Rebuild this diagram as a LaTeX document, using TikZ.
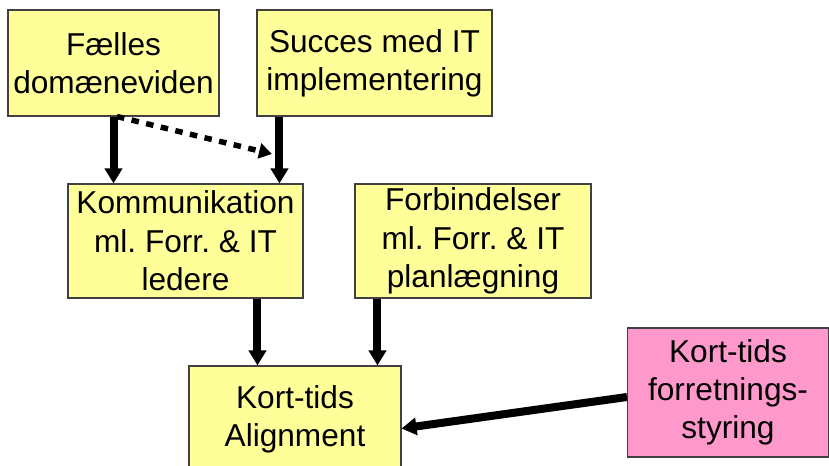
\documentclass[tikz,border=0pt]{standalone}
\usepackage{fontspec}
\setmainfont{Liberation Sans}
\usetikzlibrary{arrows.meta, positioning}
\definecolor{boxyellow}{HTML}{FFFF99}
\definecolor{boxpink}{HTML}{FF99CC}
\frenchspacing

\begin{document}
\begin{tikzpicture}[
  box/.style={draw=black!75, line width=0.6pt, fill=boxyellow, align=center,
    inner sep=0pt, font=\fontsize{18}{21.8}\selectfont},
  pinkbox/.style={box, fill=boxpink},
  bigarrow/.style={line width=0.16cm, -{Triangle[length=0.3cm, width=0.34cm]}},
  dotarrow/.style={line width=0.11cm, dash pattern=on 0.15cm off 0.15cm,
    -{Triangle[length=0.26cm, width=0.3cm]}}]

  \useasboundingbox (0,0) rectangle (16.58,-9.30);

  % top row
  \node[box, minimum width=4.22cm, minimum height=2.12cm] (faelles) at (2.27,-1.26) {Fælles\\domæneviden};
  \node[box, minimum width=4.70cm, minimum height=2.12cm] (succes) at (7.49,-1.26) {Succes med IT\\implementering};

  % middle row
  \node[box, minimum width=4.70cm, minimum height=2.28cm] (komm) at (3.71,-4.82) {Kommunikation\\ml. Forr. \& IT\\ledere};
  \node[box, minimum width=4.72cm, minimum height=2.28cm] (forb) at (9.46,-4.82) {Forbindelser\\ml. Forr. \& IT\\planlægning};

  % bottom
  \node[box, minimum width=4.24cm, minimum height=2.14cm] (align) at (5.90,-8.39) {Kort-tids\\Alignment};
  \node[pinkbox, minimum width=4.02cm, minimum height=2.58cm] (styring) at (14.56,-7.85) {Kort-tids\\forretnings-\\styring};

  \coordinate (dotend) at (5.44,-3.08);

  % arrows
  \draw[bigarrow] (faelles.south) -- (faelles.south |- komm.north);
  \draw[bigarrow] ([xshift=0.46cm]succes.south west) -- ([xshift=0.46cm]succes.south west |- komm.north);
  \draw[dotarrow] ([xshift=0.07cm]faelles.south) -- (dotend);
  \draw[bigarrow] ([xshift=3.80cm]komm.south west) -- ([xshift=3.80cm]komm.south west |- align.north);
  \draw[bigarrow] ([xshift=0.46cm]forb.south west) -- ([xshift=0.46cm]forb.south west |- align.north);
  \draw[bigarrow] ([yshift=-0.09cm]styring.west) -- ([yshift=-0.18cm]align.east);
\end{tikzpicture}
\end{document}
